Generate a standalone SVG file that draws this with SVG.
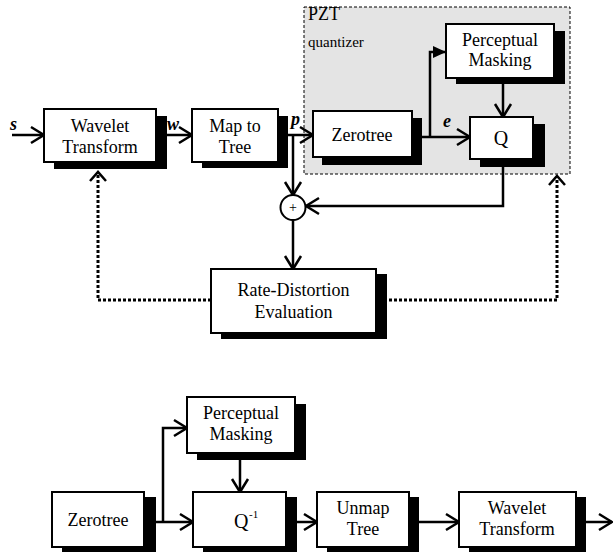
<svg xmlns="http://www.w3.org/2000/svg" width="613" height="552" viewBox="0 0 613 552">
<style>
.box{fill:#fff;stroke:#000;stroke-width:2}
.sh{fill:#000}
.t{font-family:"Liberation Serif","Times New Roman",serif;font-size:18px;fill:#000;text-anchor:middle}
.v{font-family:"Liberation Serif","Times New Roman",serif;font-size:18px;font-style:italic;font-weight:bold;fill:#000}
.ln{fill:none;stroke:#000;stroke-width:2.5}
.dot{fill:none;stroke:#000;stroke-width:3;stroke-dasharray:3 2}
</style>
<defs>
<marker id="ah" markerUnits="userSpaceOnUse" markerWidth="20" markerHeight="22" refX="14" refY="9" orient="auto" overflow="visible">
<path d="M1,1 L14,9 L1,17" fill="none" stroke="#000" stroke-width="2.5"/>
</marker>
<marker id="fa" markerUnits="userSpaceOnUse" markerWidth="16" markerHeight="14" refX="13" refY="6" orient="auto" overflow="visible">
<path d="M0,0 L13,6 L0,12 Z" fill="#000"/>
</marker>
</defs>

<!-- PZT quantizer region -->
<g id="pzt">
<rect x="304" y="7" width="266" height="167" fill="#e4e4e4" stroke="#000" stroke-width="1" stroke-dasharray="3 2"/>
<text x="308" y="20" style="font-family:'Liberation Serif',serif;font-size:18px">PZT</text>
<text x="308" y="47" style="font-family:'Liberation Serif',serif;font-size:15px">quantizer</text>
</g>

<g id="connectors">
<line class="ln" x1="12" y1="135" x2="44" y2="135" marker-end="url(#ah)"/>
<line class="ln" x1="156" y1="135" x2="192" y2="135" marker-end="url(#ah)"/>
<line class="ln" x1="278" y1="135" x2="313" y2="135" marker-end="url(#ah)"/>
<line class="ln" x1="293" y1="135" x2="293" y2="195" marker-end="url(#ah)"/>
<line class="ln" x1="412" y1="137" x2="470" y2="137" marker-end="url(#ah)"/>
<polyline class="ln" points="430,137 430,52 446,52" marker-end="url(#fa)"/>
<line class="ln" x1="503" y1="78" x2="503" y2="117" marker-end="url(#ah)"/>
<polyline class="ln" points="503,159 503,206 306,206" marker-end="url(#ah)"/>
<line class="ln" x1="293" y1="220" x2="293" y2="269" marker-end="url(#ah)"/>
<polyline class="dot" points="211,300 98,300 98,174"/>
<path class="ln" d="M90,181 L98,172 L106,181"/>
<polyline class="dot" points="389,300 557,300 557,178"/>
<path class="ln" d="M549,185 L557,176 L565,185"/>

<line class="ln" x1="144" y1="522" x2="193" y2="522" marker-end="url(#ah)"/>
<polyline class="ln" points="163,522 163,428 187,428" marker-end="url(#ah)"/>
<line class="ln" x1="240" y1="453" x2="240" y2="492" marker-end="url(#ah)"/>
<line class="ln" x1="286" y1="522" x2="317" y2="522" marker-end="url(#ah)"/>
<line class="ln" x1="409" y1="522" x2="459" y2="522" marker-end="url(#ah)"/>
<line class="ln" x1="576" y1="522" x2="612" y2="522" marker-end="url(#ah)"/>
</g>

<g id="labels">
<text class="v" x="10" y="130">s</text>
<text class="v" x="167" y="130">w</text>
<text class="v" x="291" y="125">p</text>
<text class="v" x="443" y="127">e</text>
</g>

<g id="wavelet">
<rect class="sh" x="54" y="116" width="113" height="53"/>
<rect class="box" x="44" y="109" width="112" height="53"/>
<text class="t" x="100" y="132">Wavelet</text>
<text class="t" x="100" y="153">Transform</text>
</g>
<g id="map">
<rect class="sh" x="202" y="116" width="86" height="52"/>
<rect class="box" x="192" y="109" width="86" height="53"/>
<text class="t" x="235" y="132">Map to</text>
<text class="t" x="235" y="153">Tree</text>
</g>
<g id="zerotree">
<rect class="sh" x="322" y="118" width="100" height="47"/>
<rect class="box" x="313" y="111" width="99" height="46"/>
<text class="t" x="362" y="141">Zerotree</text>
</g>
<g id="perceptual">
<rect class="sh" x="456" y="31" width="109" height="53"/>
<rect class="box" x="446" y="24" width="108" height="54"/>
<text class="t" x="500" y="46">Perceptual</text>
<text class="t" x="500" y="66">Masking</text>
</g>
<g id="q">
<rect class="sh" x="480" y="124" width="65" height="43"/>
<rect class="box" x="470" y="117" width="63" height="42"/>
<text class="t" x="501" y="145" style="font-size:20px">Q</text>
</g>
<g id="sum">
<circle cx="293" cy="207.5" r="12.5" fill="#fff" stroke="#000" stroke-width="2"/>
<text x="293" y="212" style="font-family:'Liberation Serif',serif;font-size:14px;text-anchor:middle">+</text>
</g>
<g id="rd">
<rect class="sh" x="221" y="274" width="166" height="65"/>
<rect class="box" x="211" y="269" width="165" height="64"/>
<text class="t" x="293.5" y="296">Rate-Distortion</text>
<text class="t" x="293.5" y="318">Evaluation</text>
</g>

<g id="zerotree2">
<rect class="sh" x="62" y="497" width="94" height="57"/>
<rect class="box" x="52" y="492" width="92" height="55"/>
<text class="t" x="98" y="526">Zerotree</text>
</g>
<g id="perceptual2">
<rect class="sh" x="197" y="404" width="109" height="56"/>
<rect class="box" x="187" y="397" width="108" height="56"/>
<text class="t" x="241" y="419">Perceptual</text>
<text class="t" x="241" y="440">Masking</text>
</g>
<g id="qinv">
<rect class="sh" x="203" y="497" width="94" height="57"/>
<rect class="box" x="193" y="492" width="93" height="55"/>
<text x="234" y="528" style="font-family:'Liberation Serif',serif;font-size:20px">Q</text>
<text x="249" y="518" style="font-family:'Liberation Serif',serif;font-size:11px">-1</text>
</g>
<g id="unmap">
<rect class="sh" x="327" y="497" width="92" height="57"/>
<rect class="box" x="317" y="492" width="92" height="55"/>
<text class="t" x="363" y="514">Unmap</text>
<text class="t" x="363" y="535">Tree</text>
</g>
<g id="wavelet2">
<rect class="sh" x="469" y="497" width="117" height="57"/>
<rect class="box" x="459" y="492" width="117" height="55"/>
<text class="t" x="517" y="514">Wavelet</text>
<text class="t" x="517" y="535">Transform</text>
</g>
</svg>
